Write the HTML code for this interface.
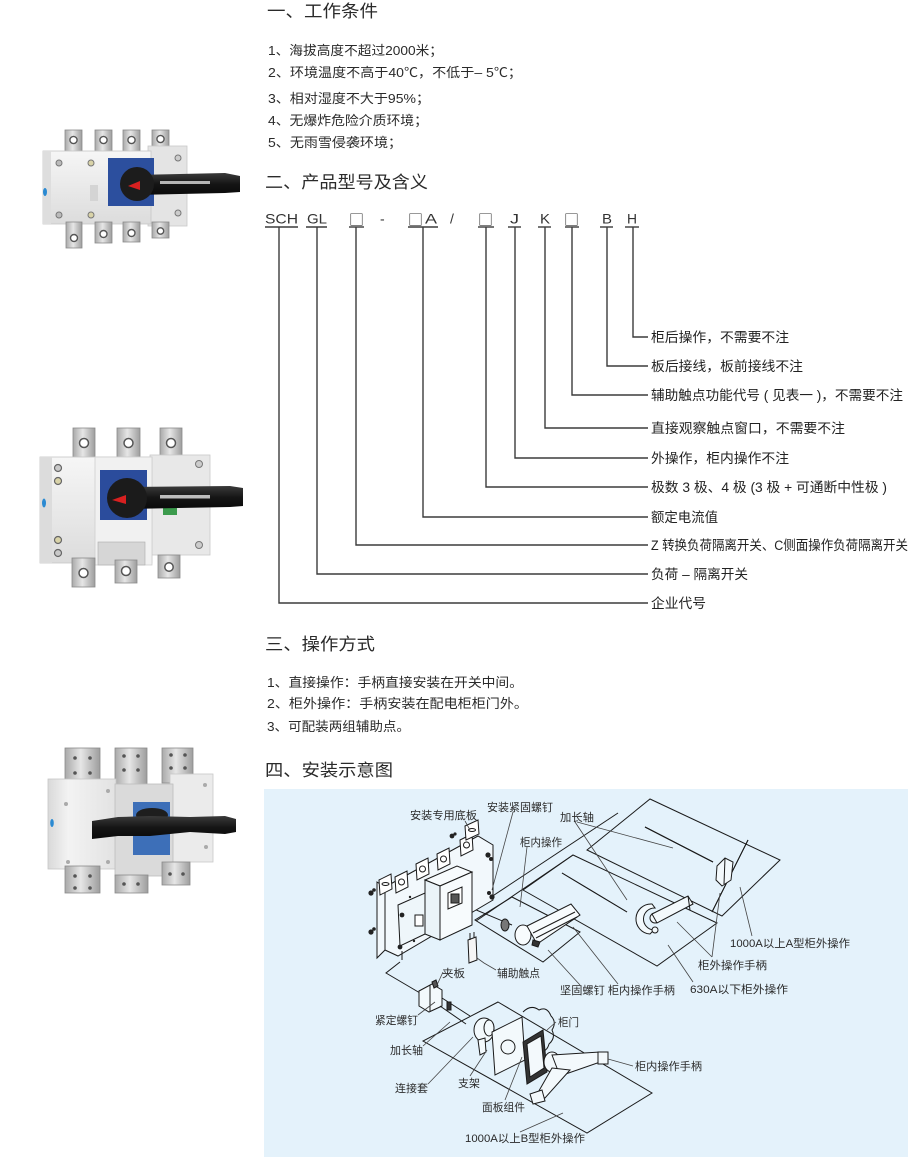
<!DOCTYPE html>
<html><head><meta charset="utf-8">
<style>
html,body{margin:0;padding:0;background:#fff;}
svg{display:block;}
text{font-family:"Liberation Sans","Noto Sans CJK SC",sans-serif;fill:#231f20;}
.h{font-size:17px;fill:#2a2a2a;}
.l{font-size:13px;fill:#2a2a2a;}
.c{font-size:14px;fill:#333;font-family:"Liberation Sans Narrow","Liberation Sans",sans-serif;}
.sq{font-size:15px;fill:#333;font-family:"Noto Sans CJK SC","DejaVu Sans",sans-serif;}
.lb{font-size:13.5px;fill:#222;}
.d{font-size:11px;fill:#2a2a2a;}
.cn line,.cn polyline{stroke:#3c3c3c;stroke-width:1.4;fill:none;}
.ld line,.ld polyline{stroke:#444;stroke-width:0.8;fill:none;}
.dr *{stroke:#1a1a1a;stroke-width:1;}
</style></head><body>
<svg width="910" height="1158" viewBox="0 0 910 1158" xmlns="http://www.w3.org/2000/svg">
<defs>
<linearGradient id="tab" x1="0" x2="1" y1="0" y2="0"><stop offset="0" stop-color="#a9a9a9"/><stop offset=".45" stop-color="#e6e6e6"/><stop offset="1" stop-color="#9d9d9d"/></linearGradient>
<linearGradient id="bod" x1="0" x2="0" y1="0" y2="1"><stop offset="0" stop-color="#f6f6f6"/><stop offset="1" stop-color="#dcdcdc"/></linearGradient>
<linearGradient id="bod2" x1="0" x2="1" y1="0" y2="0"><stop offset="0" stop-color="#d9d9d9"/><stop offset=".3" stop-color="#f3f3f3"/><stop offset="1" stop-color="#e2e2e2"/></linearGradient>
<linearGradient id="blk" x1="0" x2="0" y1="0" y2="1"><stop offset="0" stop-color="#3a3a3a"/><stop offset=".5" stop-color="#151515"/><stop offset="1" stop-color="#0a0a0a"/></linearGradient>
</defs>

<!-- ===== Section 1 ===== -->
<text class="h" x="267" y="17" textLength="111" lengthAdjust="spacingAndGlyphs">一、工作条件</text>
<text class="l" x="268" y="55" textLength="175" lengthAdjust="spacingAndGlyphs">1、海拔高度不超过2000米；</text>
<text class="l" x="268" y="77" textLength="254" lengthAdjust="spacingAndGlyphs">2、环境温度不高于40℃，不低于– 5℃；</text>
<text class="l" x="268" y="103" textLength="162" lengthAdjust="spacingAndGlyphs">3、相对湿度不大于95%；</text>
<text class="l" x="268" y="125" textLength="160" lengthAdjust="spacingAndGlyphs">4、无爆炸危险介质环境；</text>
<text class="l" x="268" y="147" textLength="134" lengthAdjust="spacingAndGlyphs">5、无雨雪侵袭环境；</text>

<!-- ===== Section 2 ===== -->
<text class="h" x="265" y="188" textLength="163" lengthAdjust="spacingAndGlyphs">二、产品型号及含义</text>

<text class="c" x="265" y="223.5" textLength="33" lengthAdjust="spacingAndGlyphs">SCH</text>
<text class="c" x="307" y="223.5" textLength="20" lengthAdjust="spacingAndGlyphs">GL</text>
<text class="sq" x="349" y="225" textLength="15" lengthAdjust="spacingAndGlyphs">□</text>
<text class="c" x="380" y="223.5">-</text>
<text class="sq" x="408" y="225" textLength="15" lengthAdjust="spacingAndGlyphs">□</text>
<text class="c" x="425" y="223.5" textLength="12" lengthAdjust="spacingAndGlyphs">A</text>
<text class="c" x="450" y="223.5">/</text>
<text class="sq" x="478" y="225" textLength="15" lengthAdjust="spacingAndGlyphs">□</text>
<text class="c" x="510" y="223.5" textLength="9" lengthAdjust="spacingAndGlyphs">J</text>
<text class="c" x="540" y="223.5" textLength="10" lengthAdjust="spacingAndGlyphs">K</text>
<text class="sq" x="564" y="225" textLength="15" lengthAdjust="spacingAndGlyphs">□</text>
<text class="c" x="602" y="223.5" textLength="10" lengthAdjust="spacingAndGlyphs">B</text>
<text class="c" x="627" y="223.5" textLength="10" lengthAdjust="spacingAndGlyphs">H</text>

<g class="cn">
<line x1="265" y1="227" x2="298" y2="227"/>
<line x1="306" y1="227" x2="327" y2="227"/>
<line x1="349" y1="227" x2="364" y2="227"/>
<line x1="408" y1="227" x2="438" y2="227"/>
<line x1="478" y1="227" x2="494" y2="227"/>
<line x1="508" y1="227" x2="521" y2="227"/>
<line x1="538" y1="227" x2="551" y2="227"/>
<line x1="565" y1="227" x2="579" y2="227"/>
<line x1="600" y1="227" x2="613" y2="227"/>
<line x1="625" y1="227" x2="639" y2="227"/>
<polyline points="633,227 633,337 648,337"/>
<polyline points="607,227 607,366 648,366"/>
<polyline points="572,227 572,395 648,395"/>
<polyline points="545,227 545,428 648,428"/>
<polyline points="515,227 515,458 648,458"/>
<polyline points="486,227 486,487 648,487"/>
<polyline points="423,227 423,517 648,517"/>
<polyline points="356,227 356,545 648,545"/>
<polyline points="317,227 317,574 648,574"/>
<polyline points="279,227 279,603 648,603"/>
</g>
<text class="lb" x="651" y="342" textLength="138" lengthAdjust="spacingAndGlyphs">柜后操作，不需要不注</text>
<text class="lb" x="651" y="371" textLength="152" lengthAdjust="spacingAndGlyphs">板后接线，板前接线不注</text>
<text class="lb" x="651" y="400" textLength="252" lengthAdjust="spacingAndGlyphs">辅助触点功能代号 ( 见表一 )，不需要不注</text>
<text class="lb" x="651" y="433" textLength="194" lengthAdjust="spacingAndGlyphs">直接观察触点窗口，不需要不注</text>
<text class="lb" x="651" y="463" textLength="138" lengthAdjust="spacingAndGlyphs">外操作，柜内操作不注</text>
<text class="lb" x="651" y="492" textLength="236" lengthAdjust="spacingAndGlyphs">极数 3 极、4 极 (3 极 + 可通断中性极 )</text>
<text class="lb" x="651" y="522" textLength="67" lengthAdjust="spacingAndGlyphs">额定电流值</text>
<text class="lb" x="651" y="550" textLength="257" lengthAdjust="spacingAndGlyphs">Z 转换负荷隔离开关、C侧面操作负荷隔离开关</text>
<text class="lb" x="651" y="579" textLength="97" lengthAdjust="spacingAndGlyphs">负荷 – 隔离开关</text>
<text class="lb" x="651" y="608" textLength="55" lengthAdjust="spacingAndGlyphs">企业代号</text>

<!-- ===== Section 3 ===== -->
<text class="h" x="265" y="650" textLength="110" lengthAdjust="spacingAndGlyphs">三、操作方式</text>
<text class="l" x="267" y="687" textLength="256" lengthAdjust="spacingAndGlyphs">1、直接操作：手柄直接安装在开关中间。</text>
<text class="l" x="267" y="708" textLength="261" lengthAdjust="spacingAndGlyphs">2、柜外操作：手柄安装在配电柜柜门外。</text>
<text class="l" x="267" y="731" textLength="143" lengthAdjust="spacingAndGlyphs">3、可配装两组辅助点。</text>

<!-- ===== Section 4 ===== -->
<text class="h" x="265" y="776" textLength="128" lengthAdjust="spacingAndGlyphs">四、安装示意图</text>

<rect x="264" y="789" width="644" height="368" fill="#e4f2fb"/>

<!-- ===== Photo 1 ===== -->
<g>
<rect x="65" y="130" width="17" height="28" fill="url(#tab)" stroke="#8a8a8a" stroke-width=".8"/>
<rect x="95" y="130" width="17" height="28" fill="url(#tab)" stroke="#8a8a8a" stroke-width=".8"/>
<rect x="123" y="130" width="17" height="28" fill="url(#tab)" stroke="#8a8a8a" stroke-width=".8"/>
<rect x="152" y="130" width="17" height="24" fill="url(#tab)" stroke="#8a8a8a" stroke-width=".8"/>
<circle cx="73.5" cy="140" r="3.6" fill="#fff" stroke="#555" stroke-width="1.4"/>
<circle cx="103.5" cy="140" r="3.6" fill="#fff" stroke="#555" stroke-width="1.4"/>
<circle cx="131.5" cy="140" r="3.6" fill="#fff" stroke="#555" stroke-width="1.4"/>
<circle cx="160.5" cy="139" r="3.6" fill="#fff" stroke="#555" stroke-width="1.4"/>
<rect x="148" y="146" width="39" height="80" fill="#e4e4e4" stroke="#c9c9c9" stroke-width=".8"/>
<rect x="43" y="151" width="108" height="73" fill="url(#bod)" stroke="#c6c6c6" stroke-width=".8"/>
<rect x="43" y="151" width="8" height="73" fill="#dedede"/>
<rect x="90" y="185" width="8" height="16" fill="#d4d4d4"/>
<circle cx="59" cy="163" r="3" fill="#bbb" stroke="#777" stroke-width="1"/>
<circle cx="91" cy="163" r="3" fill="#d9d3a8" stroke="#777" stroke-width="1"/>
<circle cx="59" cy="215" r="3" fill="#bbb" stroke="#777" stroke-width="1"/>
<circle cx="91" cy="215" r="3" fill="#d9d3a8" stroke="#777" stroke-width="1"/>
<circle cx="178" cy="158" r="3" fill="#ccc" stroke="#777" stroke-width="1"/>
<circle cx="178" cy="213" r="3" fill="#ccc" stroke="#777" stroke-width="1"/>
<ellipse cx="45" cy="192" rx="2" ry="4" fill="#2b8ad2"/>
<rect x="108" y="158" width="46" height="48" fill="#2c4f9e"/>
<rect x="66" y="222" width="16" height="26" fill="url(#tab)" stroke="#8a8a8a" stroke-width=".8"/>
<rect x="95" y="222" width="17" height="21" fill="url(#tab)" stroke="#8a8a8a" stroke-width=".8"/>
<rect x="123" y="222" width="17" height="20" fill="url(#tab)" stroke="#8a8a8a" stroke-width=".8"/>
<rect x="152" y="222" width="17" height="16" fill="url(#tab)" stroke="#8a8a8a" stroke-width=".8"/>
<circle cx="74" cy="238" r="3.5" fill="#fff" stroke="#555" stroke-width="1.4"/>
<circle cx="103.5" cy="234" r="3.5" fill="#fff" stroke="#555" stroke-width="1.4"/>
<circle cx="131.5" cy="233" r="3.5" fill="#fff" stroke="#555" stroke-width="1.4"/>
<circle cx="160.5" cy="231" r="3.2" fill="#fff" stroke="#555" stroke-width="1.4"/>
<polygon points="135,175 225,173 240,176 240,192 225,193 135,195" fill="url(#blk)"/>
<circle cx="137" cy="184" r="17" fill="#1c1c1c"/>
<rect x="160" y="181" width="50" height="3" fill="#b5b5b5"/>
<polygon points="128,186 140,181 140,190" fill="#d82020"/>
</g>

<!-- ===== Photo 2 ===== -->
<g>
<rect x="73" y="428" width="22" height="37" fill="url(#tab)" stroke="#8a8a8a" stroke-width=".8"/>
<rect x="117" y="428" width="23" height="37" fill="url(#tab)" stroke="#8a8a8a" stroke-width=".8"/>
<rect x="160" y="428" width="22" height="37" fill="url(#tab)" stroke="#8a8a8a" stroke-width=".8"/>
<circle cx="84" cy="443" r="4.5" fill="#fff" stroke="#555" stroke-width="1.5"/>
<circle cx="128.5" cy="443" r="4.5" fill="#fff" stroke="#555" stroke-width="1.5"/>
<circle cx="171" cy="443" r="4.5" fill="#fff" stroke="#555" stroke-width="1.5"/>
<rect x="150" y="455" width="60" height="100" fill="#e8e8e8" stroke="#c8c8c8" stroke-width=".8"/>
<rect x="40" y="457" width="112" height="106" fill="url(#bod)" stroke="#c6c6c6" stroke-width=".8"/>
<rect x="40" y="457" width="12" height="106" fill="#dcdcdc"/>
<rect x="95" y="457" width="57" height="108" fill="#f1f1f1" stroke="#cfcfcf" stroke-width=".8"/>
<circle cx="58" cy="468" r="3.5" fill="#c9c9c9" stroke="#666" stroke-width="1.2"/>
<circle cx="58" cy="481" r="3.5" fill="#d9d3a8" stroke="#666" stroke-width="1.2"/>
<circle cx="58" cy="540" r="3.5" fill="#d9d3a8" stroke="#666" stroke-width="1.2"/>
<circle cx="58" cy="553" r="3.5" fill="#c9c9c9" stroke="#666" stroke-width="1.2"/>
<circle cx="199" cy="464" r="3.5" fill="#ccc" stroke="#777" stroke-width="1"/>
<circle cx="199" cy="545" r="3.5" fill="#ccc" stroke="#777" stroke-width="1"/>
<ellipse cx="44" cy="503" rx="2" ry="4.5" fill="#2b8ad2"/>
<rect x="100" y="470" width="47" height="50" fill="#2b4c9c"/>
<rect x="163" y="505" width="14" height="10" fill="#3b9a4c"/>
<rect x="98" y="542" width="47" height="23" fill="#d6d6d6" stroke="#aaa" stroke-width=".6"/>
<rect x="72" y="558" width="23" height="29" fill="url(#tab)" stroke="#8a8a8a" stroke-width=".8"/>
<rect x="115" y="560" width="22" height="23" fill="url(#tab)" stroke="#8a8a8a" stroke-width=".8"/>
<rect x="158" y="555" width="22" height="23" fill="url(#tab)" stroke="#8a8a8a" stroke-width=".8"/>
<circle cx="83.5" cy="573" r="4.5" fill="#fff" stroke="#555" stroke-width="1.5"/>
<circle cx="126" cy="571" r="4.5" fill="#fff" stroke="#555" stroke-width="1.5"/>
<circle cx="169" cy="567" r="4.2" fill="#fff" stroke="#555" stroke-width="1.5"/>
<polygon points="127,487 230,486 243,488 243,506 230,507 127,509" fill="url(#blk)"/>
<circle cx="127" cy="498" r="20" fill="#1b1b1b"/>
<rect x="160" y="495" width="50" height="3.5" fill="#bdbdbd"/>
<polygon points="112,500 126,495 126,504" fill="#d82020"/>
</g>

<!-- ===== Photo 3 ===== -->
<g>
<rect x="65" y="748" width="35" height="42" fill="url(#tab)" stroke="#8a8a8a" stroke-width=".8"/>
<rect x="115" y="748" width="32" height="38" fill="url(#tab)" stroke="#8a8a8a" stroke-width=".8"/>
<rect x="162" y="748" width="31" height="35" fill="url(#tab)" stroke="#8a8a8a" stroke-width=".8"/>
<circle cx="75" cy="758" r="1.8" fill="#555"/><circle cx="90" cy="758" r="1.8" fill="#555"/>
<circle cx="75" cy="773" r="1.8" fill="#555"/><circle cx="90" cy="773" r="1.8" fill="#555"/>
<circle cx="124" cy="756" r="1.8" fill="#555"/><circle cx="138" cy="756" r="1.8" fill="#555"/>
<circle cx="124" cy="770" r="1.8" fill="#555"/><circle cx="138" cy="770" r="1.8" fill="#555"/>
<circle cx="171" cy="755" r="1.8" fill="#555"/><circle cx="185" cy="755" r="1.8" fill="#555"/>
<circle cx="171" cy="768" r="1.8" fill="#555"/><circle cx="185" cy="768" r="1.8" fill="#555"/>
<rect x="170" y="774" width="43" height="88" fill="#ebebeb" stroke="#c8c8c8" stroke-width=".8"/>
<rect x="48" y="779" width="68" height="90" fill="url(#bod2)" stroke="#c6c6c6" stroke-width=".8"/>
<rect x="115" y="784" width="58" height="92" fill="#dadada" stroke="#bdbdbd" stroke-width=".8"/>
<circle cx="66" cy="804" r="2" fill="#aaa"/><circle cx="108" cy="791" r="2" fill="#aaa"/>
<circle cx="68" cy="862" r="2" fill="#aaa"/><circle cx="108" cy="862" r="2" fill="#aaa"/>
<circle cx="205" cy="785" r="2" fill="#aaa"/><circle cx="206" cy="847" r="2" fill="#aaa"/>
<ellipse cx="52" cy="823" rx="1.8" ry="4" fill="#2b8ad2"/>
<rect x="133" y="802" width="37" height="53" fill="#3d6fb8"/>
<rect x="65" y="866" width="35" height="27" fill="url(#tab)" stroke="#8a8a8a" stroke-width=".8"/>
<rect x="115" y="875" width="33" height="18" fill="url(#tab)" stroke="#8a8a8a" stroke-width=".8"/>
<rect x="162" y="862" width="28" height="23" fill="url(#tab)" stroke="#8a8a8a" stroke-width=".8"/>
<circle cx="75" cy="876" r="1.8" fill="#555"/><circle cx="90" cy="876" r="1.8" fill="#555"/>
<circle cx="75" cy="888" r="1.8" fill="#555"/><circle cx="90" cy="888" r="1.8" fill="#555"/>
<circle cx="124" cy="884" r="1.8" fill="#555"/><circle cx="138" cy="884" r="1.8" fill="#555"/>
<circle cx="170" cy="874" r="1.8" fill="#555"/><circle cx="183" cy="874" r="1.8" fill="#555"/>
<ellipse cx="152" cy="815" rx="16" ry="7" fill="#1e1e1e"/>
<polygon points="92,821 118,817 150,816 190,817 225,816 236,819 236,832 225,834 190,832 150,836 118,836 92,839" fill="url(#blk)"/>
</g>

<!-- ===== Installation diagram ===== -->
<g class="dr" fill="none">
<!-- plates -->
<polygon points="650,799 780,860 722,916 587,850" fill="none"/>
<polygon points="573,855 717,923 657,966 523,890" fill="none"/>
<polygon points="512,897 580,932 543,962 475,920" fill="none"/>
<polygon points="498,1002 652,1093 587,1133 423,1041" fill="none"/>
<!-- long shaft envelope lines -->
<line x1="473" y1="909" x2="618" y2="813"/>
<line x1="476" y1="921" x2="573" y2="855"/>
<polyline points="400,962 386,973 420,993"/>
<line x1="462" y1="904" x2="512" y2="925"/>

<!-- switch backplate -->
<polygon points="377,882 385,887 385,950 377,958" fill="#f2f8fc"/>
<polygon points="385,887 478,836 493,845 493,900 398,956 385,950" fill="#f2f8fc"/>
<!-- terminal tabs -->
<polygon points="379,880 391,874 392,889 380,895" fill="#fff"/>
<polygon points="395,877 407,871 408,887 396,893" fill="#fff"/>
<polygon points="416,864 428,858 429,874 417,880" fill="#fff"/>
<polygon points="437,854 449,848 450,864 438,870" fill="#fff"/>
<polygon points="460,840 472,834 473,850 461,856" fill="#fff"/>
<polygon points="465,826 478,820 479,834 466,840" fill="#fff"/>
<circle cx="401.5" cy="882" r="3" fill="#fff"/>
<circle cx="422.5" cy="869" r="3" fill="#fff"/>
<circle cx="443.5" cy="859" r="3" fill="#fff"/>
<circle cx="466.5" cy="845" r="3" fill="#fff"/>
<ellipse cx="385.5" cy="884" rx="3.5" ry="1.5" fill="#fff"/>
<ellipse cx="472" cy="830" rx="3.5" ry="1.5" fill="#fff"/>
<!-- switch main box -->
<polygon points="425,880 457,866 472,872 440,886" fill="#f7fbfd"/>
<polygon points="425,880 440,886 440,940 425,934" fill="#eaf3f8"/>
<polygon points="440,886 472,872 472,925 440,940" fill="#f7fbfd"/>
<polygon points="448,893 462,887 462,903 448,909" fill="#fff"/>
<rect x="451" y="894" width="8" height="9" fill="#555"/>
<polygon points="398,905 425,893 425,934 400,946" fill="#eef6fa"/>
<rect x="415" y="915" width="8" height="11" fill="#fff"/>
<line x1="402" y1="951" x2="402" y2="960"/>
<!-- bolts -->
</g>
<g fill="#222">
<circle cx="371" cy="893" r="2.6"/><circle cx="374" cy="890" r="1.8"/>
<circle cx="371" cy="932" r="2.6"/><circle cx="374" cy="929" r="1.8"/>
<circle cx="452" cy="836" r="2.4"/><circle cx="455" cy="834" r="1.6"/>
<circle cx="488" cy="855" r="2.6"/><circle cx="491" cy="859" r="2"/>
<circle cx="492" cy="897" r="2.6"/><circle cx="489" cy="893" r="2"/>
<circle cx="402" cy="915" r="2.4"/><circle cx="400" cy="947" r="2.4"/>
<circle cx="410" cy="897" r="1.2"/><circle cx="414" cy="941" r="1.2"/>
</g>
<g class="dr">
<!-- aux contact -->
<polygon points="468,940 476,937 477,960 469,963" fill="#f5f5f5"/>
<line x1="470" y1="933" x2="470" y2="940"/><line x1="474" y1="932" x2="474" y2="938"/>
<!-- nut -->
<ellipse cx="505" cy="925" rx="4" ry="6" fill="#777"/>
<!-- inner handle 柜内 -->
<ellipse cx="523" cy="935" rx="8" ry="10" fill="#f7fbfd"/>
<polygon points="527,926 571,904 580,915 537,944" fill="#f7fbfd"/>
<line x1="533" y1="933" x2="575" y2="912"/>
<line x1="536" y1="938" x2="577" y2="917"/>
<polygon points="533,940 540,942 538,947 532,945" fill="#333"/>
<!-- top rod -->
<line x1="645" y1="827" x2="713" y2="862" stroke-width="4.5"/>
<line x1="645" y1="827" x2="713" y2="862" stroke="#f3f9fc" stroke-width="2.3"/>
<!-- middle rod -->
<line x1="562" y1="873" x2="627" y2="912" stroke-width="4.5"/>
<line x1="562" y1="873" x2="627" y2="912" stroke="#f3f9fc" stroke-width="2.3"/>
<!-- A-type outer handle -->
<line x1="748" y1="840" x2="712" y2="912" stroke-width="6"/>
<line x1="748" y1="840" x2="712" y2="912" stroke="#f3f9fc" stroke-width="4"/>
<polygon points="717,866 725,858 733,862 731,880 722,886 716,880" fill="#f3f9fc"/>
<line x1="725" y1="858" x2="724" y2="884"/>
<!-- 630A outer handle -->
<path d="M652,904 A15,15 0 0,0 650,934 L654,930 A10,10 0 0,1 655,908 Z" fill="#f3f9fc"/>
<circle cx="655" cy="918" r="5" fill="#f3f9fc"/>
<polygon points="652,914 688,896 693,904 657,923" fill="#f3f9fc"/>
<line x1="688" y1="896" x2="690" y2="910"/>
<circle cx="655" cy="930" r="3" fill="#f3f9fc"/>

<!-- B-type assembly -->
<polygon points="419,991 432,984 442,990 442,1006 429,1012 419,1006" fill="#f3f9fc"/>
<line x1="430" y1="985" x2="430" y2="1011"/>
<polygon points="432,982 436,980 438,986 434,988" fill="#555"/>
<line x1="442" y1="998" x2="470" y2="1016"/>
<line x1="440" y1="1006" x2="466" y2="1024"/>
<rect x="447" y="1002" width="4" height="8" fill="#333"/>
<ellipse cx="484" cy="1030" rx="10" ry="12" fill="#f3f9fc"/>
<ellipse cx="489" cy="1028" rx="5" ry="8" fill="#f3f9fc"/>
<polygon points="478,1040 485,1038 486,1052 480,1055" fill="#f3f9fc"/>
<polygon points="492,1032 522,1017 525,1060 495,1075" fill="#f3f9fc"/>
<circle cx="508" cy="1047" r="7" fill="#f3f9fc"/>
<path d="M523,1012 q8,-8 16,-2 q8,-4 12,6 q6,6 1,14 q4,8 -3,14 q-2,8 -10,8" fill="none"/>
<polygon points="523,1042 543,1030 547,1072 527,1084" fill="#333"/>
<polygon points="527,1044 541,1036 544,1068 530,1077" fill="#f3f9fc"/>
<ellipse cx="552" cy="1062" rx="8" ry="10" fill="#f3f9fc"/>
<polygon points="552,1055 600,1052 606,1060 560,1076" fill="#f3f9fc"/>
<polygon points="552,1068 570,1070 545,1098 536,1096" fill="#f3f9fc"/>
<rect x="598" y="1052" width="10" height="12" fill="#f3f9fc"/>
<polygon points="530,1094 542,1090 545,1101 533,1104" fill="#f3f9fc"/>
</g>

<!-- leaders -->
<g class="ld">
<line x1="465" y1="821" x2="470" y2="830"/>
<line x1="513" y1="812" x2="492" y2="890"/>
<line x1="577" y1="822" x2="673" y2="848"/>
<line x1="575" y1="822" x2="627" y2="900"/>
<line x1="527" y1="847" x2="520" y2="907"/>
<line x1="752" y1="936" x2="740" y2="887"/>
<line x1="712" y1="957" x2="720" y2="893"/>
<line x1="712" y1="957" x2="677" y2="922"/>
<line x1="693" y1="982" x2="668" y2="945"/>
<line x1="580" y1="985" x2="548" y2="950"/>
<line x1="618" y1="984" x2="573" y2="927"/>
<polyline points="496,970 484,963 477,958"/>
<line x1="443" y1="972" x2="437" y2="985"/>
<line x1="418" y1="1015" x2="435" y2="1002"/>
<line x1="423" y1="1046" x2="450" y2="1022"/>
<line x1="428" y1="1084" x2="473" y2="1037"/>
<line x1="470" y1="1076" x2="487" y2="1050"/>
<line x1="505" y1="1100" x2="522" y2="1057"/>
<line x1="520" y1="1132" x2="563" y2="1113"/>
<line x1="556" y1="1022" x2="547" y2="1030"/>
<line x1="633" y1="1066" x2="608" y2="1059"/>
</g>

<!-- diagram labels -->
<text class="d" x="410" y="819" textLength="67" lengthAdjust="spacingAndGlyphs">安装专用底板</text>
<text class="d" x="487" y="811" textLength="66" lengthAdjust="spacingAndGlyphs">安装紧固螺钉</text>
<text class="d" x="560" y="821" textLength="34" lengthAdjust="spacingAndGlyphs">加长轴</text>
<text class="d" x="520" y="846" textLength="42" lengthAdjust="spacingAndGlyphs">柜内操作</text>
<text class="d" x="730" y="947" textLength="120" lengthAdjust="spacingAndGlyphs">1000A以上A型柜外操作</text>
<text class="d" x="698" y="969" textLength="69" lengthAdjust="spacingAndGlyphs">柜外操作手柄</text>
<text class="d" x="690" y="993" textLength="98" lengthAdjust="spacingAndGlyphs">630A以下柜外操作</text>
<text class="d" x="560" y="994" textLength="115" lengthAdjust="spacingAndGlyphs">坚固螺钉 柜内操作手柄</text>
<text class="d" x="497" y="977" textLength="43" lengthAdjust="spacingAndGlyphs">辅助触点</text>
<text class="d" x="442" y="977" textLength="23" lengthAdjust="spacingAndGlyphs">夹板</text>
<text class="d" x="375" y="1024" textLength="43" lengthAdjust="spacingAndGlyphs">紧定螺钉</text>
<text class="d" x="558" y="1026" textLength="21" lengthAdjust="spacingAndGlyphs">柜门</text>
<text class="d" x="390" y="1054" textLength="33" lengthAdjust="spacingAndGlyphs">加长轴</text>
<text class="d" x="635" y="1070" textLength="67" lengthAdjust="spacingAndGlyphs">柜内操作手柄</text>
<text class="d" x="395" y="1092" textLength="33" lengthAdjust="spacingAndGlyphs">连接套</text>
<text class="d" x="458" y="1087" textLength="22" lengthAdjust="spacingAndGlyphs">支架</text>
<text class="d" x="482" y="1111" textLength="43" lengthAdjust="spacingAndGlyphs">面板组件</text>
<text class="d" x="465" y="1142" textLength="120" lengthAdjust="spacingAndGlyphs">1000A以上B型柜外操作</text>
</svg>
</body></html>
